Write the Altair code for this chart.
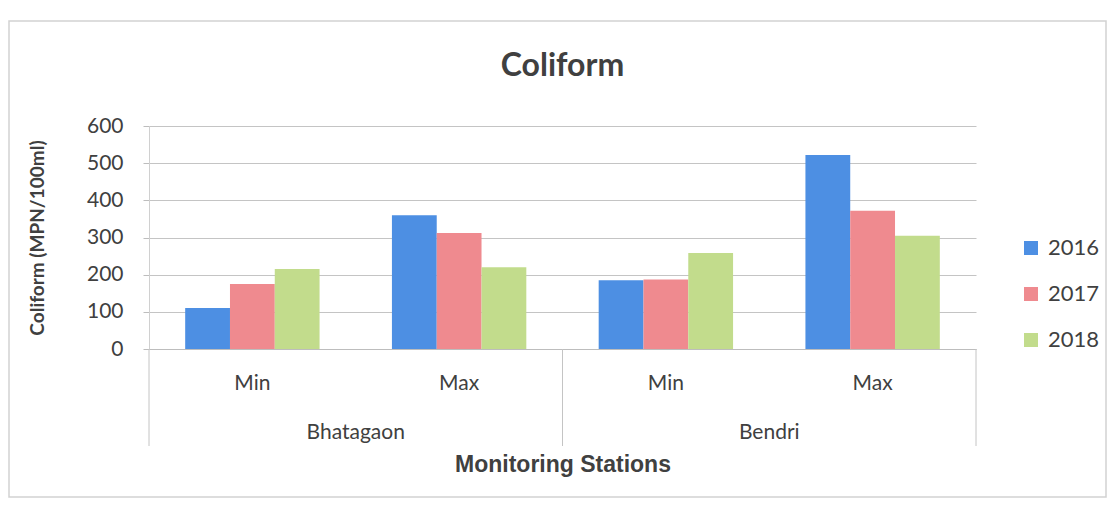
import altair as alt
import pandas as pd

stations = ["Bhatagaon", "Bhatagaon", "Bendri", "Bendri"]
levels = ["Min", "Max", "Min", "Max"]
years = ["2016", "2017", "2018"]
v2016 = [110, 360, 185, 522]
v2017 = [175, 312, 187, 372]
v2018 = [215, 220, 258, 305]
station_names = ["Bhatagaon", "Bendri"]
colors = ["#4d8fe3", "#ef8a8f", "#c2dc8c"]
chart_title = "Coliform"

rows = []
for i in range(4):
    for y, vals in zip(years, [v2016, v2017, v2018]):
        rows.append({"station": stations[i], "level": levels[i],
                     "key": stations[i] + "|" + levels[i],
                     "year": y, "value": vals[i]})
df = pd.DataFrame(rows)
keys = [s + "|" + l for s, l in zip(stations, levels)]
sdf = pd.DataFrame({"station": station_names})
tdf = pd.DataFrame({"title": [chart_title]})

W, H = 827, 223
TXT = "#404040"
LINE = "#c4c4c4"

bars = alt.Chart(df).mark_bar().encode(
    x=alt.X("key:N", sort=keys,
            scale=alt.Scale(domain=keys, paddingInner=0.35, paddingOuter=0.175),
            axis=alt.Axis(labelExpr="split(datum.label, '|')[1]", labelAngle=0,
                          ticks=False, domainColor="#bdbdbd", labelFontSize=21,
                          labelFont="Lato", labelColor=TXT, labelPadding=23,
                          title="Monitoring Stations", titleFont="Liberation Sans",
                          titleFontSize=23, titleFontWeight="bold", titleColor=TXT,
                          titlePadding=60)),
    xOffset=alt.XOffset("year:N", sort=years, scale=alt.Scale(paddingInner=0, paddingOuter=0)),
    y=alt.Y("value:Q", scale=alt.Scale(domain=[0, 600]),
            axis=alt.Axis(values=[0, 100, 200, 300, 400, 500, 600], tickSize=6,
                          tickColor="#bdbdbd", domainColor="#d0d0d0", gridColor=LINE,
                          labelFontSize=21, labelFont="Lato", labelColor=TXT, labelPadding=20,
                          title="Coliform (MPN/100ml)", titleFont="Lato", titleFontSize=19,
                          titleFontWeight="bold", titleColor=TXT, titlePadding=39)),
    color=alt.Color("year:N", sort=years,
                    scale=alt.Scale(domain=years, range=colors),
                    legend=alt.Legend(title=None, orient="none", legendX=871, legendY=111,
                                      symbolType="square", symbolSize=196,
                                      symbolStrokeWidth=0, labelFontSize=22,
                                      labelFont="Lato", labelColor=TXT, rowPadding=24,
                                      labelOffset=6)),
)

station_x = alt.X("station:N", sort=station_names,
                  scale=alt.Scale(domain=station_names, paddingInner=0, paddingOuter=0),
                  axis=None)

station_text = alt.Chart(sdf).mark_text(fontSize=21, font="Lato", color=TXT).encode(
    x=station_x, y=alt.value(H + 84), text="station:N")

seps = alt.Chart(sdf).mark_rule(color=LINE, strokeWidth=1).encode(
    x=alt.X("station:N", sort=station_names, bandPosition=0,
            scale=alt.Scale(domain=station_names, paddingInner=0, paddingOuter=0),
            axis=None),
    y=alt.value(H), y2=alt.value(H + 97))

right_sep = alt.Chart(sdf.head(1)).mark_rule(color=LINE, strokeWidth=1).encode(
    x=alt.value(W), y=alt.value(H), y2=alt.value(H + 97))

frame = alt.Chart(sdf.head(1)).mark_rect(fillOpacity=0, stroke="#d2d2d2", strokeWidth=1.5).encode(
    x=alt.value(-140), x2=alt.value(W + 130), y=alt.value(-105), y2=alt.value(H + 148))

title_text = alt.Chart(tdf).mark_text(font="Lato", fontSize=32, fontWeight="bold",
                                      color=TXT, baseline="middle").encode(
    x=alt.value(W / 2), y=alt.value(-60), text="title:N")

chart = alt.layer(
    frame, bars, alt.layer(station_text, seps).resolve_scale(x="shared"), right_sep, title_text
).resolve_scale(x="independent").properties(
    width=W, height=H,
    padding={"left": 0, "top": 12, "right": 0, "bottom": 0},
).configure_view(stroke=None)

chart.save("out.html", embed_options={"renderer": "svg", "actions": False})
